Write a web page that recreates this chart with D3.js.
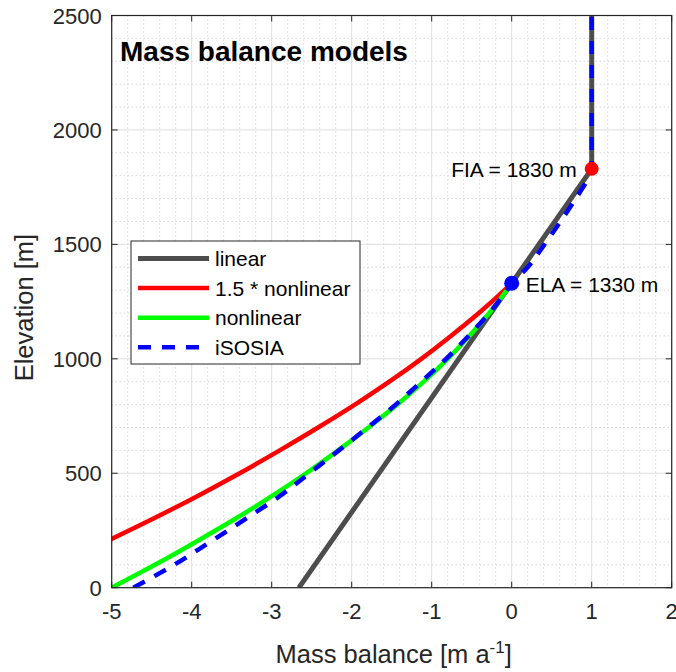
<!DOCTYPE html>
<html>
<head>
<meta charset="utf-8">
<script src="https://cdn.jsdelivr.net/npm/d3@7"></script>
<style>
    body { margin: 0; background: #fff; }
    svg { display: block; font-family: "Liberation Sans", Arial, sans-serif; }
    .grid-major line { stroke: #dedede; stroke-width: 1; }
    .grid-minor line { stroke: #c4c4c4; stroke-width: 1; stroke-dasharray: 1, 3; }
    .tick-label { font-size: 22px; fill: #262626; }
    .axis-label { font-size: 25.5px; fill: #262626; }
</style>
</head>
<body>
<svg id="chart" width="676" height="672"></svg>
<script>
// elevation [m] vs mass balance [m a^-1]
const linearZ = [0, 1330, 1830, 2500];
const linearMB = [-2.66, 0, 1, 1];

const nonlinZ = [0, 100, 200, 300, 400, 500, 600, 700, 800, 900, 1000, 1100, 1200, 1300, 1330];
const nonlinMB = [-5.00, -4.46, -3.95, -3.46, -3.00, -2.57, -2.17, -1.79, -1.43, -1.10, -0.80, -0.53, -0.28, -0.06, 0];
const nonlin15MB = [-6.33, -5.69, -5.08, -4.49, -3.93, -3.40, -2.90, -2.42, -1.96, -1.53, -1.13, -0.76, -0.41, -0.09, 0];

const isosiaZ = [0, 100, 200, 300, 400, 500, 600, 700, 800, 900, 1000, 1100, 1200, 1300, 1330,
    1400, 1500, 1600, 1700, 1800, 1830, 2500];
const isosiaMB = [-4.73, -4.22, -3.77, -3.33, -2.90, -2.53, -2.16, -1.80, -1.45, -1.13, -0.82, -0.54, -0.28, -0.06, 0,
    0.20, 0.41, 0.61, 0.80, 0.97, 1.0, 1.0];

const ela = {mb: 0, z: 1330, label: "ELA = 1330 m"};
const fia = {mb: 1, z: 1830, label: "FIA = 1830 m"};

const xTicks = [-5, -4, -3, -2, -1, 0, 1, 2];
const yTicks = [0, 500, 1000, 1500, 2000, 2500];

const series = [
    {name: "linear", z: linearZ, mb: linearMB, color: "#4d4d4d", width: 5, dash: null},
    {name: "1.5 * nonlinear", z: nonlinZ, mb: nonlin15MB, color: "#ff0000", width: 4.5, dash: null},
    {name: "nonlinear", z: nonlinZ, mb: nonlinMB, color: "#00ff00", width: 4.5, dash: null},
    {name: "iSOSIA", z: isosiaZ, mb: isosiaMB, color: "#0000ff", width: 4.5, dash: "13,11"}
];

const svg = d3.select("#chart");
const plot = {left: 111.7, right: 671.7, top: 15.5, bottom: 587.7};

const x = d3.scaleLinear().domain([-5, 2]).range([plot.left, plot.right]);
const y = d3.scaleLinear().domain([0, 2500]).range([plot.bottom, plot.top]);

svg.append("defs").append("clipPath").attr("id", "clip")
    .append("rect")
    .attr("x", plot.left).attr("y", plot.top)
    .attr("width", plot.right - plot.left).attr("height", plot.bottom - plot.top);

// minor grid (dotted)
const minorX = d3.range(-5, 2.001, 0.2).filter(v => Math.abs(v - Math.round(v)) > 1e-6);
const minorY = d3.range(0, 2501, 100).filter(v => v % 500 !== 0);
const gMinor = svg.append("g").attr("class", "grid-minor");
gMinor.selectAll(".mx").data(minorX).enter().append("line")
    .attr("x1", d => x(d)).attr("x2", d => x(d))
    .attr("y1", plot.top).attr("y2", plot.bottom);
gMinor.selectAll(".my").data(minorY).enter().append("line")
    .attr("y1", d => y(d)).attr("y2", d => y(d))
    .attr("x1", plot.left).attr("x2", plot.right);

// major grid
const gMajor = svg.append("g").attr("class", "grid-major");
gMajor.selectAll(".gx").data(xTicks).enter().append("line")
    .attr("x1", d => x(d)).attr("x2", d => x(d))
    .attr("y1", plot.top).attr("y2", plot.bottom);
gMajor.selectAll(".gy").data(yTicks).enter().append("line")
    .attr("y1", d => y(d)).attr("y2", d => y(d))
    .attr("x1", plot.left).attr("x2", plot.right);

// lines
const lineGroup = svg.append("g").attr("clip-path", "url(#clip)");
series.forEach(s => {
    const pts = s.z.map((z, i) => [s.mb[i], z]);
    const gen = d3.line()
        .x(d => x(d[0])).y(d => y(d[1]))
        .curve(s.name === "linear" ? d3.curveLinear : d3.curveMonotoneY);
    lineGroup.append("path")
        .datum(pts)
        .attr("d", gen)
        .attr("fill", "none")
        .attr("stroke", s.color)
        .attr("stroke-width", s.width)
        .attr("stroke-dasharray", s.dash);
});

// ELA / FIA markers
svg.append("circle").attr("cx", x(fia.mb)).attr("cy", y(fia.z)).attr("r", 7).attr("fill", "#ff0000");
svg.append("circle").attr("cx", x(ela.mb)).attr("cy", y(ela.z)).attr("r", 7.5).attr("fill", "#0000ff");

svg.append("text")
    .attr("x", x(fia.mb) - 15).attr("y", y(fia.z) + 8)
    .attr("text-anchor", "end")
    .style("font-size", "21px")
    .text(fia.label);
svg.append("text")
    .attr("x", x(ela.mb) + 14).attr("y", y(ela.z) + 9)
    .style("font-size", "21px")
    .text(ela.label);

// axes box with inward ticks on all sides
const axisColor = "#262626";
const tickLen = 6;
const axes = svg.append("g");
axes.append("rect")
    .attr("x", plot.left).attr("y", plot.top)
    .attr("width", plot.right - plot.left).attr("height", plot.bottom - plot.top)
    .attr("fill", "none").attr("stroke", axisColor).attr("stroke-width", 1.2);

xTicks.forEach(t => {
    axes.append("line").attr("x1", x(t)).attr("x2", x(t))
        .attr("y1", plot.bottom).attr("y2", plot.bottom - tickLen).attr("stroke", axisColor);
    axes.append("line").attr("x1", x(t)).attr("x2", x(t))
        .attr("y1", plot.top).attr("y2", plot.top + tickLen).attr("stroke", axisColor);
});
yTicks.forEach(t => {
    axes.append("line").attr("y1", y(t)).attr("y2", y(t))
        .attr("x1", plot.left).attr("x2", plot.left + tickLen).attr("stroke", axisColor);
    axes.append("line").attr("y1", y(t)).attr("y2", y(t))
        .attr("x1", plot.right).attr("x2", plot.right - tickLen).attr("stroke", axisColor);
});

// tick labels (last one sits at the window edge, as in the original)
axes.selectAll(".xl").data(xTicks).enter().append("text")
    .attr("class", "tick-label")
    .attr("x", d => x(d)).attr("y", plot.bottom + 31)
    .attr("text-anchor", "middle")
    .text(d => d < 0 ? "-" + Math.abs(d) : d);
axes.selectAll(".yl").data(yTicks).enter().append("text")
    .attr("class", "tick-label")
    .attr("x", plot.left - 10).attr("y", d => y(d) + 8)
    .attr("text-anchor", "end")
    .text(d => d);

// axis labels
const xLabel = svg.append("text")
    .attr("class", "axis-label")
    .attr("x", (plot.left + plot.right) / 2 + 2).attr("y", 663)
    .attr("text-anchor", "middle");
xLabel.append("tspan").text("Mass balance [m a");
xLabel.append("tspan").attr("dy", -10).style("font-size", "17px").text("-1");
xLabel.append("tspan").attr("dy", 10).text("]");

svg.append("text")
    .attr("class", "axis-label")
    .attr("transform", `translate(33, ${(plot.top + plot.bottom) / 2 + 6}) rotate(-90)`)
    .attr("text-anchor", "middle")
    .text("Elevation [m]");

// title
svg.append("text")
    .attr("x", 120).attr("y", 61)
    .style("font-size", "28px").style("font-weight", "bold")
    .text("Mass balance models");

// legend
const legend = svg.append("g").attr("transform", "translate(131, 241)");
legend.append("rect")
    .attr("width", 229).attr("height", 123)
    .attr("fill", "#fff").attr("stroke", axisColor).attr("stroke-width", 1);
series.forEach((s, i) => {
    const ly = 17.5 + i * 29.6;
    legend.append("line")
        .attr("x1", 7).attr("x2", 78).attr("y1", ly).attr("y2", ly)
        .attr("stroke", s.color).attr("stroke-width", s.width)
        .attr("stroke-dasharray", s.dash);
    legend.append("text")
        .attr("x", 84).attr("y", ly + 7.5)
        .style("font-size", "21px")
        .text(s.name);
});
</script>
</body>
</html>
